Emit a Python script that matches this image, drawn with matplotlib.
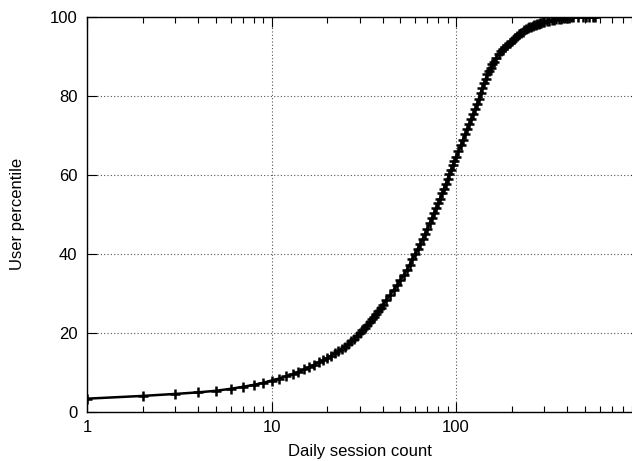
import matplotlib
matplotlib.use("Agg")
import matplotlib.pyplot as plt
from matplotlib.ticker import FixedLocator, NullFormatter

plt.rcParams["font.family"] = ["Liberation Sans", "DejaVu Sans"]
plt.rcParams["font.size"] = 12

# CDF of daily session count
sessions = [1, 2, 3, 4, 5, 6, 7, 8, 9, 10,
            11, 12, 13, 14, 15, 16, 17, 18, 19, 20,
            21, 22, 23, 24, 25, 26, 27, 28, 29, 30,
            31, 32, 33, 34, 35, 36, 37, 38, 39, 40,
            42, 44, 46, 48, 50, 52, 54, 56, 58, 60,
            62, 64, 66, 68, 70, 72, 74, 76, 78, 80,
            82, 84, 86, 88, 90, 92, 94, 96, 98, 100,
            103, 106, 109, 112, 115, 118, 121, 124, 127, 130,
            133, 136, 139, 142, 145, 148, 151, 154, 157, 160,
            165, 170, 175, 180, 185, 190, 195, 200, 205, 210,
            215, 220, 225, 230, 235, 240, 245, 250, 255, 260,
            265, 270, 275, 280, 285, 290, 295, 300, 310, 320,
            330, 340, 350, 360, 370, 380, 390, 400, 410, 420,
            430, 460, 490, 506, 527, 551, 567]
percentile = [3.3, 4.0, 4.5, 4.9, 5.3, 5.8, 6.3, 6.8, 7.3, 7.9,
              8.4, 9.0, 9.5, 10.1, 10.7, 11.3, 11.9, 12.5, 13.0, 13.6,
              14.2, 14.8, 15.3, 15.9, 16.5, 17.1, 17.8, 18.5, 19.2, 19.9,
              20.6, 21.3, 22.0, 22.7, 23.4, 24.1, 24.8, 25.6, 26.3, 27.0,
              28.3, 29.6, 30.9, 32.1, 33.3, 34.6, 35.9, 37.2, 38.6, 40.0,
              41.2, 42.5, 43.8, 45.1, 46.4, 47.7, 49.0, 50.3, 51.6, 52.8,
              54.0, 55.3, 56.5, 57.7, 59.0, 60.2, 61.3, 62.4, 63.5, 64.5,
              66.0, 67.5, 68.9, 70.3, 71.6, 72.9, 74.1, 75.4, 76.6, 77.9,
              79.3, 80.8, 82.1, 83.3, 84.4, 85.5, 86.4, 87.2, 88.0, 88.7,
              89.7, 90.6, 91.3, 91.9, 92.5, 93.0, 93.5, 94.0, 94.4, 94.8,
              95.2, 95.6, 96.0, 96.3, 96.6, 96.9, 97.2, 97.4, 97.55, 97.7,
              97.85, 98.0, 98.15, 98.3, 98.45, 98.6, 98.7, 98.8, 99.0, 99.1,
              99.2, 99.3, 99.4, 99.5, 99.6, 99.7, 99.75, 99.8, 99.85, 99.9,
              99.9, 100.0, 100.0, 100.0, 100.0, 100.0, 100.0]

x_ticks = [1, 10, 100]
x_tick_labels = ["1", "10", "100"]
y_ticks = [0, 20, 40, 60, 80, 100]

fig = plt.figure(figsize=(6.32, 4.61), dpi=100)
# axes reach past the right edge, as in the reference (x = 1000 is cut off)
ax = fig.add_axes([87 / 632, 49.3 / 461, 553.5 / 632, 394.7 / 461])

ax.plot(sessions, percentile, color="black", linewidth=1.8,
        marker="+", markersize=6.5, markeredgewidth=1.8)

ax.set_xscale("log")
ax.set_xlim(1, 1000)
ax.set_ylim(0, 100)

ax.set_xticks(x_ticks)
ax.set_xticklabels(x_tick_labels)
minor = [m * d for d in (1, 10, 100) for m in range(2, 10)]
ax.xaxis.set_minor_locator(FixedLocator(minor))
ax.xaxis.set_minor_formatter(NullFormatter())
ax.set_yticks(y_ticks)

ax.tick_params(which="major", direction="in", length=7, width=0.8,
               top=True, right=True, labelsize=12)
ax.tick_params(which="minor", direction="in", length=4, width=0.8,
               top=True, right=True)
ax.tick_params(axis="x", pad=6)
ax.tick_params(axis="y", pad=7)

ax.grid(True, which="major", color="#555555", linestyle=(0, (1, 2)), linewidth=0.8)
ax.set_axisbelow(True)
for s in ax.spines.values():
    s.set_linewidth(1.0)

ax.set_xlabel("Daily session count")
ax.set_ylabel("User percentile")
ax.xaxis.set_label_coords((360 - 87) / 553.5, -0.082)
ax.yaxis.set_label_coords(-0.112, 0.5)

fig.savefig("out.png", dpi=100)
